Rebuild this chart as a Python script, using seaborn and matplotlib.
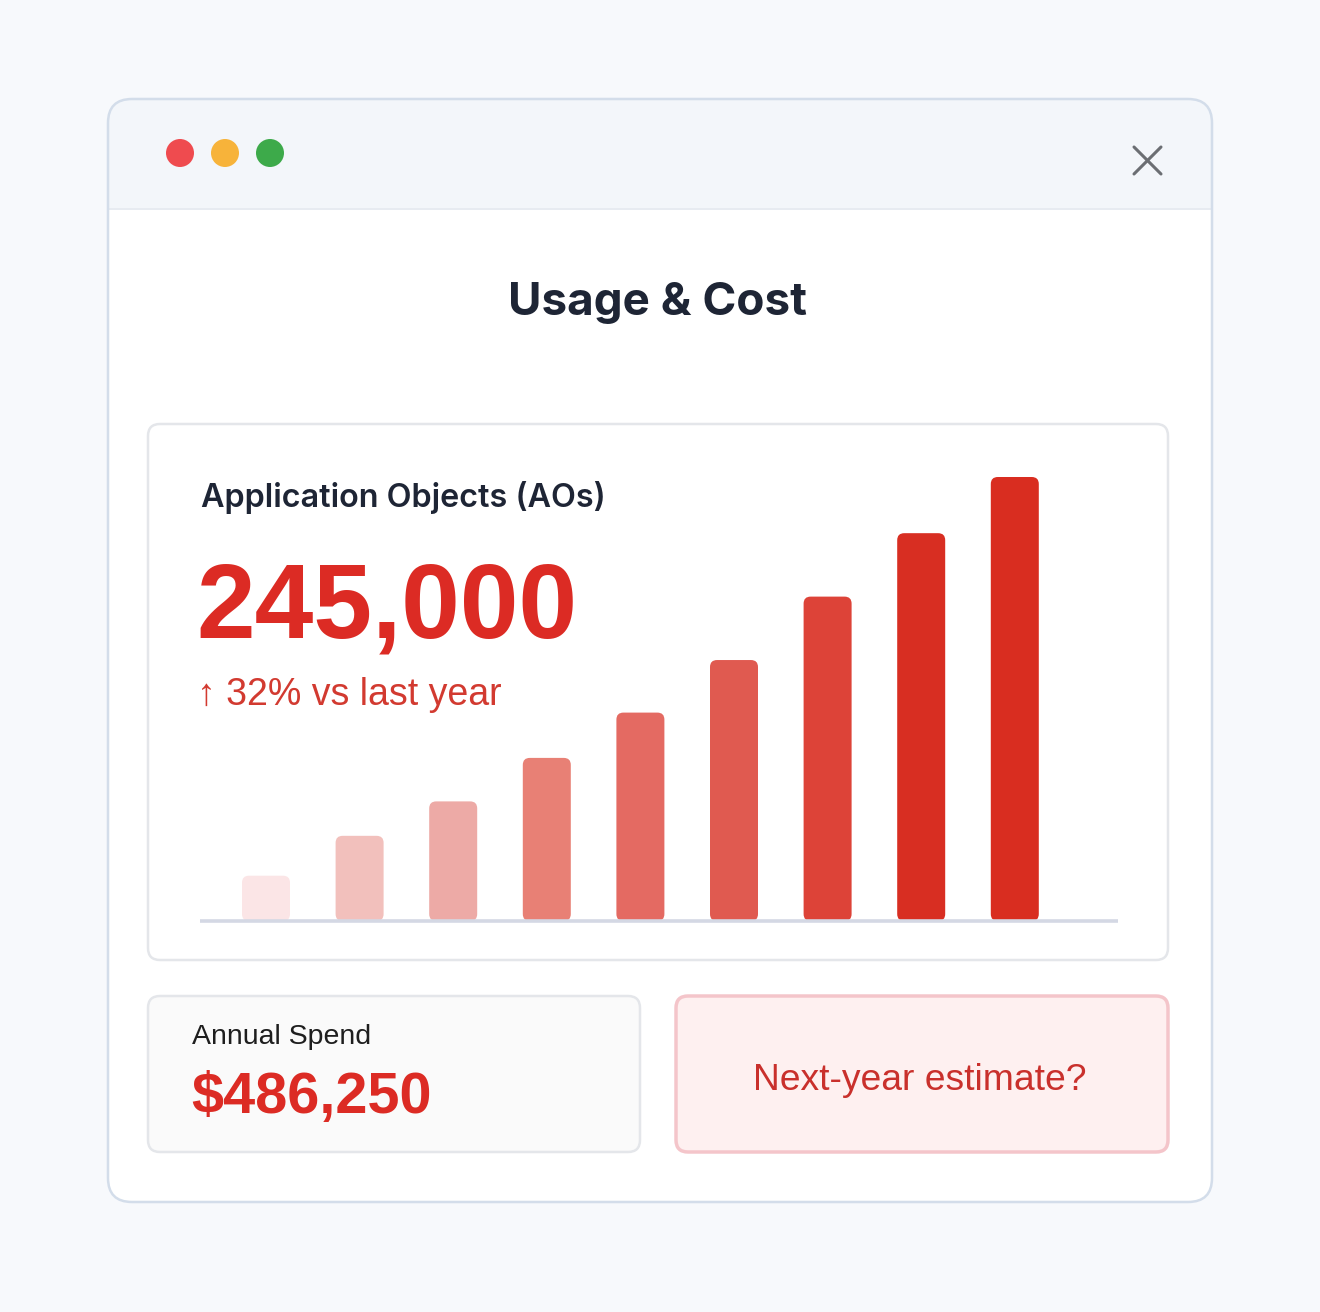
"""Usage & Cost dashboard card with a yearly AO bar chart."""

import matplotlib

matplotlib.use("Agg")

import matplotlib.pyplot as plt
from matplotlib.patches import Circle, FancyBboxPatch
import seaborn as sns

# data
years = ["2016", "2017", "2018", "2019", "2020", "2021", "2022", "2023", "2024"]
aos_thousands = [25, 47, 66, 90, 115, 144, 179, 214, 245]
bar_colors = ["#FBE5E6", "#F2C0BC", "#EDAAA6", "#E88075", "#E46A62",
              "#E05A50", "#DD4338", "#D82E22", "#D92D20"]
headline = "245,000"
change_text = "↑ 32% vs last year"
spend_text = "$486,250"

W, H = 1320, 1312
sns.set_theme(style="white")
plt.rcParams["font.family"] = ["Inter", "DejaVu Sans"]

fig = plt.figure(figsize=(W / 100, H / 100), dpi=100)
fig.patch.set_facecolor("#F7F9FC")

# full-figure axes in pixel coordinates for the card chrome
bg = fig.add_axes([0, 0, 1, 1])
bg.set_xlim(0, W)
bg.set_ylim(H, 0)
bg.axis("off")


def rbox(x0, y0, x1, y1, r, fc, ec, lw=1.5, z=1):
    bg.add_patch(FancyBboxPatch((x0, y0), x1 - x0, y1 - y0,
                                boxstyle=f"round,pad=0,rounding_size={r}",
                                fc=fc, ec=ec, lw=lw, zorder=z))


# window + title bar
rbox(108, 99, 1212, 1202, 24, "white", "none")
rbox(108, 99, 1212, 208, 24, "#F3F6FA", "none", z=1.1)
bg.fill_between([108, 1212], 180, 208, color="#F3F6FA", zorder=1.1, lw=0)
bg.plot([109, 1211], [208.5, 208.5], color="#E3E8EF", lw=1.2, zorder=1.2)
rbox(108, 99, 1212, 1202, 24, "none", "#D3DDEA", lw=1.8, z=1.3)
for cx, c in zip([180, 225, 270], ["#EF4B4F", "#F7B33A", "#3DAA4A"]):
    bg.add_patch(Circle((cx, 153), 14, fc=c, ec="none", zorder=2))
bg.plot([1134, 1161], [147, 174], color="#6B6E73", lw=2.2, zorder=2,
        solid_capstyle="round")
bg.plot([1134, 1161], [174, 147], color="#6B6E73", lw=2.2, zorder=2,
        solid_capstyle="round")

bg.text(657, 303, "Usage & Cost", ha="center", va="center", fontsize=33,
        fontweight="bold", color="#1E2535", zorder=3)

# chart card
rbox(148, 424, 1168, 960, 12, "white", "#E4E6EA", lw=1.8)
bg.text(201, 498, "Application Objects (AOs)", ha="left", va="center",
        fontsize=23.3, fontweight="semibold", color="#1E2535", zorder=3)
bg.text(196, 638, headline, ha="left", va="baseline", fontsize=76,
        fontweight="bold", color="#DC2B24", family="Liberation Sans", zorder=3)
bg.text(197, 705, change_text, ha="left", va="baseline", fontsize=27,
        color="#D23A30", family=["Liberation Sans", "DejaVu Sans"], zorder=3)

# bottom cards
rbox(148, 996, 640, 1152, 12, "#FAFAFA", "#E4E6EA", lw=1.8)
bg.text(192, 1044, "Annual Spend", ha="left", va="baseline", fontsize=20.5,
        color="#1E1E1E", family="Liberation Sans", zorder=3)
bg.text(191, 1113, spend_text, ha="left", va="baseline", fontsize=41.5,
        fontweight="bold", color="#DC2B24", family="Liberation Sans", zorder=3)

rbox(676, 996, 1168, 1152, 12, "#FEF0F0", "#F4C5CA", lw=2.5)
bg.text(920, 1081, "Next-year estimate?", ha="center", va="center",
        fontsize=26.8, color="#C9302C", family="Liberation Sans", zorder=3)

# bar chart axes: categories spaced 93.6 px, baseline at y=921
step = 93.6
first_c = 266
x_lo, x_hi = -0.7, 9.1
left_px = first_c + x_lo * step
right_px = first_c + x_hi * step
base_px, top_px = 921, 477
ax = fig.add_axes([left_px / W, 1 - base_px / H,
                   (right_px - left_px) / W, (base_px - top_px) / H])
ax.patch.set_alpha(0)

sns.barplot(x=years, y=aos_thousands, hue=years, palette=bar_colors,
            legend=False, width=48 / step, ax=ax, saturation=1)
ax.set_xlim(x_lo, x_hi)
ax.set_ylim(0, max(aos_thousands))
ax.axis("off")

# swap plain rectangles for rounded ones (radius ~7 px)
y_per_px = max(aos_thousands) / (base_px - top_px)
x_per_px = 1 / step
for p in list(ax.patches):
    x, y = p.get_x(), p.get_y()
    w, h = p.get_width(), p.get_height()
    fc = p.get_facecolor()
    p.remove()
    ax.add_patch(FancyBboxPatch((x, y), w, h,
                                boxstyle=f"round,pad=0,rounding_size={7 * x_per_px}",
                                mutation_aspect=y_per_px / x_per_px,
                                fc=fc, ec="none", clip_on=False, zorder=2))

ax.plot([x_lo, x_hi], [0, 0], color="#D4D8E4", lw=2.6, zorder=3,
        solid_capstyle="butt", clip_on=False)

fig.savefig("out.png", dpi=100, facecolor=fig.get_facecolor())
